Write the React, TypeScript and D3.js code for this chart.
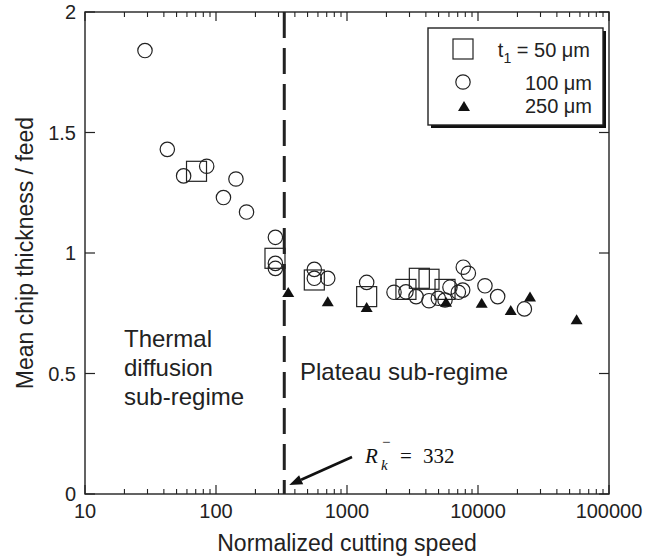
import React from "react";
import * as d3 from "d3";

const squaresX = [71, 282, 563, 1413, 2818, 3566, 4227, 5600];
const squaresY = [1.339, 0.978, 0.888, 0.819, 0.849, 0.895, 0.891, 0.849];

const circlesX = [28.7, 42.5, 56.6, 84.9, 114, 142, 171, 284, 284, 284, 563, 563, 713, 1413, 2285, 2818, 3367, 4227, 4977, 5600, 6110, 7080, 7640, 7720, 8440, 11300, 14130, 22600];
const circlesY = [1.84, 1.43, 1.32, 1.36, 1.23, 1.307, 1.17, 1.065, 0.957, 0.936, 0.932, 0.895, 0.895, 0.878, 0.837, 0.839, 0.819, 0.802, 0.812, 0.805, 0.858, 0.837, 0.846, 0.941, 0.916, 0.864, 0.819, 0.768];

const trianglesX = [356, 713, 1413, 5700, 10670, 17780, 24950, 56600];
const trianglesY = [0.838, 0.8, 0.776, 0.798, 0.794, 0.763, 0.819, 0.725];

const xTickValues = [10, 100, 1000, 10000, 100000];
const xTickLabels = ["10", "100", "1000", "10000", "100000"];
const yTickValues = [0, 0.5, 1, 1.5, 2];
const yTickLabels = ["0", "0.5", "1", "1.5", "2"];
const criticalValue = 332;

const SANS = "'Liberation Sans', Arial, Helvetica, sans-serif";
const SERIF = "'Liberation Serif', 'Times New Roman', serif";
const INK = "#222";

export default function App() {
  const W = 645, H = 559;
  const x = d3.scaleLog().domain([10, 100000]).range([85, 609]);
  const y = d3.scaleLinear().domain([0, 2]).range([494, 12]);
  const [x0, x1] = x.range();
  const [yb, yt] = y.range();

  const minors: number[] = [];
  for (let d = 10; d < 100000; d *= 10) for (let k = 2; k <= 9; k++) minors.push(d * k);

  const tri = (cx: number, cy: number, w = 12, h = 10) =>
    `M${cx},${cy - h / 2}L${cx + w / 2},${cy + h / 2}L${cx - w / 2},${cy + h / 2}Z`;

  const xc = x(criticalValue);
  const arrowStart = [352, 457];
  const arrowEnd = [xc + 5, 485];
  const ang = Math.atan2(arrowEnd[1] - arrowStart[1], arrowEnd[0] - arrowStart[0]);
  const ah = 13, aw = 5;
  const bx = arrowEnd[0] - ah * Math.cos(ang), by = arrowEnd[1] - ah * Math.sin(ang);
  const head = `M${arrowEnd[0]},${arrowEnd[1]}L${bx + aw * Math.sin(ang)},${by - aw * Math.cos(ang)}L${bx - aw * Math.sin(ang)},${by + aw * Math.cos(ang)}Z`;

  return (
    <svg width={W} height={H} style={{ position: "absolute", left: 0, top: 0, background: "#fff" }}>
      {/* frame */}
      <rect x={x0} y={yt} width={x1 - x0} height={yb - yt} fill="none" stroke={INK} strokeWidth={1.4} />
      {/* x ticks bottom & top */}
      {xTickValues.map((v) => (
        <g key={"xm" + v}>
          <line x1={x(v)} x2={x(v)} y1={yb} y2={yb - 9} stroke={INK} strokeWidth={1.2} />
          <line x1={x(v)} x2={x(v)} y1={yt} y2={yt + 9} stroke={INK} strokeWidth={1.2} />
        </g>
      ))}
      {minors.map((v) => (
        <g key={"xn" + v}>
          <line x1={x(v)} x2={x(v)} y1={yb} y2={yb - 5} stroke={INK} strokeWidth={1.1} />
          <line x1={x(v)} x2={x(v)} y1={yt} y2={yt + 5} stroke={INK} strokeWidth={1.1} />
        </g>
      ))}
      {xTickValues.map((v, i) => (
        <text key={"xl" + v} x={x(v)} y={518} textAnchor="middle" fontFamily={SANS} fontSize={20} fill={INK}>
          {xTickLabels[i]}
        </text>
      ))}
      {/* y ticks */}
      {yTickValues.map((v, i) => (
        <g key={"y" + v}>
          <line x1={x0} x2={x0 + 10} y1={y(v)} y2={y(v)} stroke={INK} strokeWidth={1.2} />
          <line x1={x1} x2={x1 - 10} y1={y(v)} y2={y(v)} stroke={INK} strokeWidth={1.2} />
          <text x={76} y={y(v)} dy="0.36em" textAnchor="end" fontFamily={SANS} fontSize={20} fill={INK}>
            {yTickLabels[i]}
          </text>
        </g>
      ))}
      {/* axis titles */}
      <text x={(x0 + x1) / 2} y={551} textAnchor="middle" fontFamily={SANS} fontSize={23} fill={INK}>
        Normalized cutting speed
      </text>
      <text transform={`translate(33,${(yt + yb) / 2}) rotate(-90)`} textAnchor="middle" fontFamily={SANS} fontSize={23} fill={INK}>
        Mean chip thickness / feed
      </text>

      {/* critical line */}
      <line x1={xc} x2={xc} y1={yt} y2={yb} stroke={INK} strokeWidth={3} strokeDasharray="26 10" />

      {/* regime labels */}
      <text fontFamily={SANS} fontSize={24} fill={INK}>
        <tspan x={124} y={347}>Thermal</tspan>
        <tspan x={124} y={376}>diffusion</tspan>
        <tspan x={124} y={405}>sub-regime</tspan>
      </text>
      <text x={300} y={380} fontFamily={SANS} fontSize={24} fill={INK}>Plateau sub-regime</text>

      {/* data */}
      {squaresX.map((v, i) => (
        <rect key={"s" + i} x={x(v) - 10} y={y(squaresY[i]) - 10} width={20} height={20} fill="none" stroke={INK} strokeWidth={1.2} />
      ))}
      {circlesX.map((v, i) => (
        <circle key={"c" + i} cx={x(v)} cy={y(circlesY[i])} r={7.2} fill="none" stroke={INK} strokeWidth={1.2} />
      ))}
      {trianglesX.map((v, i) => (
        <path key={"t" + i} d={tri(x(v), y(trianglesY[i]))} fill="#111" />
      ))}

      {/* annotation arrow */}
      <line x1={arrowStart[0]} y1={arrowStart[1]} x2={bx} y2={by} stroke="#111" strokeWidth={2.6} />
      <path d={head} fill="#111" />
      <text fontFamily={SERIF} fontSize={21} fill="#111">
        <tspan x={365} y={463} fontStyle="italic">R</tspan>
        <tspan x={381} y={470} fontSize={15} fontStyle="italic">k</tspan>
        <tspan x={382} y={447} fontSize={15}>−</tspan>
        <tspan x={400} y={463}>=</tspan>
        <tspan x={423} y={463}>332</tspan>
      </text>

      {/* legend */}
      <rect x={431} y={31} width={175} height={97} fill="#111" />
      <rect x={428} y={28} width={175} height={97} fill="#fff" stroke={INK} strokeWidth={1.4} />
      <rect x={453} y={39} width={20} height={20} fill="none" stroke={INK} strokeWidth={1.2} />
      <circle cx={463} cy={82} r={7.2} fill="none" stroke={INK} strokeWidth={1.2} />
      <path d={tri(464, 106)} fill="#111" />
      <text x={590} y={57} textAnchor="end" fontFamily={SANS} fontSize={20} fill={INK}>
        t<tspan fontSize={14} dy={6}>1</tspan><tspan dy={-6}> = 50 μm</tspan>
      </text>
      <text x={592} y={90} textAnchor="end" fontFamily={SANS} fontSize={20} fill={INK}>100 μm</text>
      <text x={592} y={113} textAnchor="end" fontFamily={SANS} fontSize={20} fill={INK}>250 μm</text>
    </svg>
  );
}
